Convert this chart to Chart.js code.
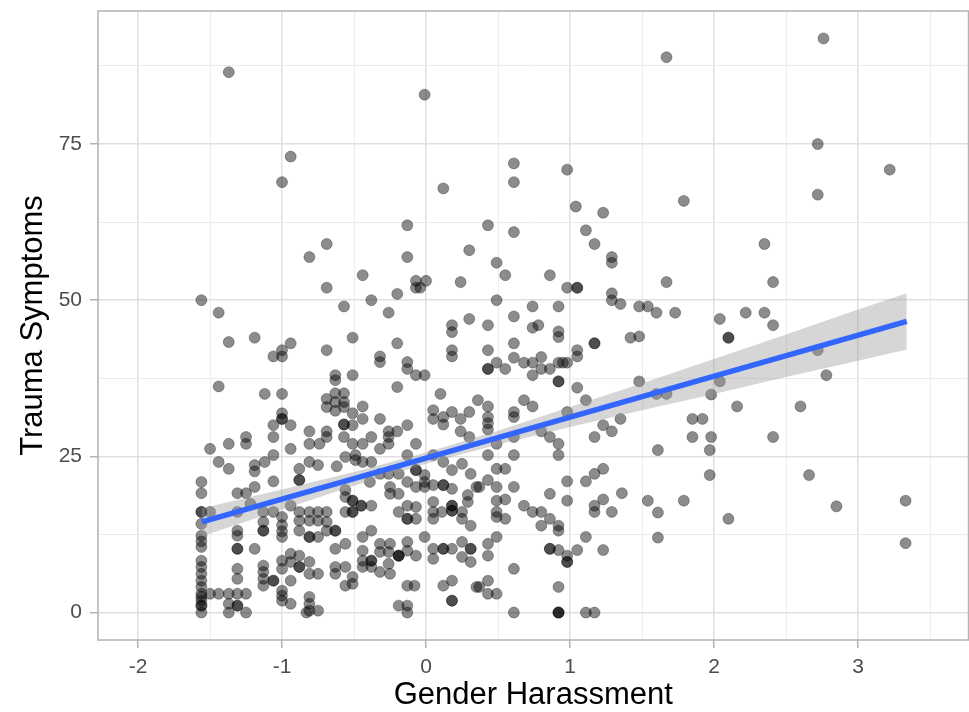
<!DOCTYPE html>
<html>
<head>
<meta charset="utf-8">
<script src="https://cdn.jsdelivr.net/npm/chart.js@4/dist/chart.umd.min.js"></script>
<style>
  html, body { margin: 0; padding: 0; background: #fff; }
  #wrap { width: 969px; height: 712px; }
</style>
</head>
<body>
<div id="wrap"><canvas id="chart" width="969" height="712"></canvas></div>
<script>
// scatter data (x = gender harassment, y = trauma symptoms)
const harassment = [
  // top part
  -1.37,-0.01,-0.94,-1.0,0.61,0.61,0.98,0.12,1.04,-0.13,
  0.43,0.61,-0.69,-0.81,-0.13,0.30,0.49,0.55,-0.44,0.86,
  1.23,1.11,1.17,1.29,1.29,1.67,1.79,2.35,2.76,2.72,
  3.22,2.72,
  // middle left
  -0.69,-0.07,0.0,-0.07,-0.04,-1.56,-0.38,-0.20,-0.57,-1.44,
  -0.26,-1.37,-1.19,-0.94,-1.0,-1.0,-1.06,-0.69,-0.51,-0.20,
  -0.32,-0.32,-0.13,-0.13,-0.07,-0.01,-1.44,-1.12,-1.0,-0.63,
  -0.63,-0.51,-0.20,-0.69,-0.69,-0.63,-0.63,-0.63,-0.57,-0.57,
  -0.57,-0.44,-0.51,-0.44,-0.51,-0.32,-1.0,-1.0,-1.0,-1.06,
  -0.94,-0.57,-0.57,-1.06,-1.25,-1.25,-1.37,-1.50,-0.81,-0.69,
  -0.69,-0.81,-0.74,-0.94,-0.57,-0.51,-0.44,-0.38,-0.26,-0.26,
  -0.26,-0.20,-0.13,-0.07,-0.32,0.05,0.05,0.10,
  // middle right
  0.24,0.98,1.05,1.05,1.29,1.29,1.35,1.48,1.54,1.60,
  1.73,1.67,0.49,0.74,0.92,0.30,0.18,0.18,0.43,0.61,
  0.74,0.78,0.92,0.92,1.42,1.48,1.17,1.17,0.18,0.18,
  0.43,0.61,0.61,0.49,0.43,0.43,0.55,0.68,0.74,0.80,
  0.74,0.80,0.86,0.92,0.95,0.98,1.05,1.05,0.92,0.92,
  1.05,1.11,1.48,1.60,1.67,0.12,0.12,0.18,0.24,0.30,
  0.36,0.43,0.43,0.43,0.43,0.24,0.30,0.49,0.61,0.61,
  0.68,0.74,0.61,0.80,0.86,0.92,0.98,1.17,1.23,1.29,
  1.35,
  // far right
  2.41,2.04,2.22,2.35,2.41,2.10,2.10,2.72,2.78,2.04,
  1.98,2.16,2.60,1.85,1.92,1.85,1.98,2.41,1.61,1.97,
  1.97,2.66,1.54,1.79,1.61,2.85,2.10,1.61,3.33,3.33,
  // bottom left
  -1.44,-1.37,-1.19,-1.19,-1.12,-1.06,-0.88,-0.81,-0.75,-0.88,
  -0.88,-1.56,-1.56,-1.31,-1.25,-1.19,-1.06,-1.22,-1.56,-1.56,
  -1.56,-1.56,-1.56,-1.56,-1.56,-1.56,-1.56,-1.56,-1.56,-1.56,
  -1.56,-1.56,-1.56,-1.56,-1.56,-1.50,-1.31,-1.13,-1.06,-1.0,
  -0.94,-0.88,-0.81,-0.75,-0.69,-1.0,-1.0,-1.13,-1.13,-1.13,
  -1.31,-1.31,-1.31,-1.31,-1.19,-1.0,-0.88,-0.81,-0.75,-0.69,
  -0.88,-0.81,-0.81,-0.75,-0.69,-1.31,-1.31,-1.50,-1.44,-1.37,
  -1.31,-1.25,-1.37,-1.31,-1.31,-1.25,-1.37,-1.13,-1.13,-1.13,
  -1.13,-1.06,-1.06,-1.0,-1.0,-0.94,-0.94,-0.88,-0.88,-0.88,
  -0.81,-0.81,-0.75,-1.0,-1.0,-0.94,-0.81,-0.81,-0.81,-0.75,
  -1.0,-0.94,-0.83,
  // bottom centre
  -0.62,-0.56,-0.49,-0.49,-0.44,-0.38,-0.13,-0.07,-0.07,-0.01,
  -0.01,0.05,0.12,0.18,0.25,0.31,0.12,0.12,0.05,0.18,
  0.35,0.29,0.29,0.18,0.18,0.18,0.18,0.25,0.25,0.11,
  0.05,0.05,0.05,0.31,-0.25,-0.25,-0.19,-0.13,-0.07,-0.01,
  -0.32,-0.26,-0.19,-0.39,-0.56,-0.56,-0.51,-0.51,-0.45,-0.45,
  -0.38,-0.51,-0.51,-0.56,-0.19,-0.13,-0.13,-0.13,-0.07,-0.07,
  -0.63,-0.63,-0.56,-0.63,-0.44,-0.38,-0.32,-0.25,-0.13,-0.13,
  -0.19,-0.19,-0.19,-0.07,-0.01,-0.44,-0.38,-0.38,-0.44,-0.44,
  -0.38,-0.32,-0.26,-0.32,-0.25,-0.26,-0.63,-0.63,-0.56,-0.51,
  -0.51,-0.56,-0.13,-0.08,-0.19,-0.13,-0.13,0.05,0.12,0.12,
  0.18,0.25,0.31,0.31,0.05,0.25,0.31,0.12,0.18,0.18,
  0.18,0.35,
  // bottom right
  0.43,0.61,0.92,0.49,0.55,0.43,0.37,0.49,0.61,0.49,
  0.55,0.49,0.49,0.55,0.68,0.74,0.80,0.86,0.80,0.92,
  0.92,0.86,0.98,0.98,1.11,1.17,1.23,1.17,1.17,1.23,
  1.29,1.36,1.11,1.23,1.05,0.86,0.86,0.92,0.98,0.98,
  0.98,0.49,0.43,0.43,0.61,0.43,0.37,0.43,0.49,0.92,
  0.61,0.92,0.92,0.92,1.11,1.17
]
const trauma = [
  // top part
  86.5,82.9,73.0,68.9,71.9,68.9,70.9,67.9,65.0,62.0,
  62.0,60.9,59.0,56.9,56.9,58.0,56.0,54.0,54.0,54.0,
  64.0,61.2,59.0,56.9,56.0,88.9,65.9,59.0,91.9,75.0,
  70.9,66.9,
  // middle left
  52.0,53.1,53.1,52.0,52.0,50.0,50.0,51.0,49.0,48.0,
  48.0,43.3,44.0,43.1,42.0,41.0,41.0,42.0,44.0,43.1,
  41.0,40.1,40.1,39.0,38.0,38.0,36.2,35.0,35.0,38.0,
  37.2,38.0,36.1,34.2,32.9,35.1,33.7,32.3,35.1,33.7,
  32.9,33.0,31.9,31.0,30.0,31.0,31.9,31.0,31.0,30.0,
  30.0,30.1,30.1,28.1,28.1,27.0,27.0,26.2,29.0,29.0,
  28.1,27.0,27.0,26.2,28.1,27.0,27.0,28.1,29.0,28.1,
  27.0,29.0,30.0,27.0,26.2,32.4,31.0,35.0,
  // middle right
  52.9,52.0,52.0,52.0,51.1,50.0,49.4,49.0,49.0,48.0,
  48.0,52.9,50.0,49.0,49.0,47.0,46.0,44.9,46.0,47.4,
  45.6,46.0,45.0,44.1,44.0,44.2,43.1,43.1,42.0,41.0,
  42.0,43.1,40.8,40.0,39.0,39.0,39.0,40.0,40.0,40.9,
  38.0,39.0,39.0,40.0,40.0,40.0,42.0,41.0,37.0,37.0,
  36.0,34.0,37.0,35.0,35.0,31.3,30.1,32.1,31.0,32.1,
  34.0,33.0,31.3,30.3,29.3,29.0,28.1,27.0,32.1,31.3,
  34.0,33.0,28.1,29.0,28.1,27.0,32.1,28.1,30.0,29.0,
  31.0,
  // far right
  52.9,47.0,48.0,48.0,46.0,44.0,44.0,42.0,38.0,37.0,
  34.9,33.0,33.0,31.0,31.0,28.1,28.1,28.1,26.0,26.0,
  22.0,22.0,17.9,17.9,16.0,17.0,15.0,12.0,17.9,11.1,
  // bottom left
  24.1,23.0,23.6,22.6,24.1,25.2,23.0,24.1,23.6,21.2,
  21.2,20.9,19.1,19.1,19.1,20.1,21.0,17.4,16.1,16.1,
  14.2,12.3,10.5,8.3,6.2,5.1,4.1,3.0,1.9,1.1,
  1.1,0.0,2.5,7.3,11.4,16.1,16.1,16.1,16.1,15.3,
  17.1,16.1,16.1,16.1,16.1,14.0,13.0,14.5,13.1,13.1,
  13.1,12.3,10.2,10.2,10.2,12.1,14.7,14.7,14.7,14.5,
  13.1,12.1,12.1,12.1,13.1,7.0,5.4,3.0,3.0,3.0,
  3.0,3.0,1.4,1.1,1.1,0.0,0.0,7.5,6.5,5.4,
  4.3,5.1,5.1,8.3,7.0,8.1,9.4,9.1,7.3,7.3,
  8.1,6.2,6.2,3.5,2.7,1.4,2.5,1.4,0.3,0.3,
  1.9,5.1,0.0,
  // bottom centre
  23.4,24.9,25.2,24.4,24.1,24.1,25.2,22.8,22.8,22.0,
  20.9,25.2,24.1,22.8,23.8,22.2,20.4,20.4,20.4,19.8,
  20.1,18.8,17.7,17.1,17.1,16.3,16.3,16.1,15.0,16.1,
  17.7,16.1,15.0,13.9,20.1,19.0,19.0,20.9,20.1,20.1,
  22.2,22.2,22.2,20.9,19.6,18.5,17.9,17.9,17.1,17.1,
  17.1,16.1,16.1,16.1,16.1,15.0,15.0,17.1,16.9,15.0,
  13.1,13.1,11.0,10.2,12.1,13.1,11.0,11.0,11.3,9.9,
  9.1,9.1,9.1,9.1,12.1,9.9,8.3,8.3,8.3,7.3,
  7.3,9.7,9.7,6.5,6.2,7.8,7.3,6.2,7.3,5.7,
  4.6,4.3,4.3,4.3,1.1,1.1,0.0,10.2,10.2,10.2,
  10.2,11.3,10.2,10.2,8.6,8.9,8.1,4.3,5.1,1.9,
  1.9,4.1,
  // bottom right
  25.2,25.2,25.2,23.0,23.0,21.2,20.1,20.1,20.1,17.9,
  18.1,16.1,15.3,15.0,17.1,16.1,16.1,15.0,13.9,13.9,
  13.1,19.0,21.0,17.9,21.0,22.2,23.0,17.1,16.1,18.1,
  16.1,19.1,12.1,10.0,10.0,10.2,10.2,10.0,9.1,8.1,
  8.1,12.1,11.0,9.1,7.0,5.1,4.1,3.0,3.0,4.1,
  0.0,0.0,0.0,0.0,0.0,0.0
]

// fitted line (lm) and its confidence band
const fitX = [-1.556, 3.338]
const fitY = [14.5, 46.6]
const bandX = [-1.556, -1, -0.5, 0, 0.5, 1, 1.5, 2, 2.5, 3, 3.338]
const bandUpper = [16.7, 19.7, 22.5, 25.6, 29.1, 32.9, 36.7, 40.6, 44.5, 48.5, 51.1]
const bandLower = [12.2, 16.5, 20.3, 23.8, 26.9, 29.7, 32.4, 35.0, 37.7, 40.3, 42.1]

// axis ticks (major labelled, minor only grid)
const xTicks = [-2, -1.5, -1, -0.5, 0, 0.5, 1, 1.5, 2, 2.5, 3, 3.5]
const yTicks = [0, 12.5, 25, 37.5, 50, 62.5, 75, 87.5]

const FONT = "'Liberation Sans', Arial, Helvetica, sans-serif"
const isMajor = v => Number.isInteger(v)

const points = harassment.map((h, i) => ({x: h, y: trauma[i]}))
const fitLine = fitX.map((v, i) => ({x: v, y: fitY[i]}))
const upper = bandX.map((v, i) => ({x: v, y: bandUpper[i]}))
const lower = bandX.map((v, i) => ({x: v, y: bandLower[i]}))

// panel border all round (theme_light)
const panelBorder = {
  id: 'panelBorder',
  afterDraw(chart) {
    const {ctx, chartArea: a} = chart
    ctx.save()
    ctx.strokeStyle = '#b3b3b3'
    ctx.lineWidth = 1.5
    ctx.strokeRect(a.left, a.top, a.right - a.left, a.bottom - a.top)
    ctx.restore()
  }
}

function gridOpts() {
  return {
    color: c => isMajor(c.tick.value) ? '#e0e0e0' : '#ececec',
    lineWidth: c => isMajor(c.tick.value) ? 1.5 : 1,
    tickColor: c => isMajor(c.tick.value) ? '#b3b3b3' : 'rgba(0,0,0,0)',
    tickWidth: 1.5,
    tickLength: 8,
    drawTicks: true
  }
}

new Chart(document.getElementById('chart'), {
  type: 'scatter',
  data: {
    datasets: [
      {
        data: fitLine, showLine: true, borderColor: '#3366ff', borderWidth: 5.5,
        pointRadius: 0, fill: false, order: 0
      },
      {
        data: upper, showLine: true, borderWidth: 0, borderColor: 'rgba(0,0,0,0)',
        pointRadius: 0, fill: '+1', backgroundColor: 'rgba(153,153,153,0.4)', order: 1
      },
      {
        data: lower, showLine: true, borderWidth: 0, borderColor: 'rgba(0,0,0,0)',
        pointRadius: 0, fill: false, order: 2
      },
      {
        data: points, pointRadius: 5.5, borderWidth: 1,
        backgroundColor: 'rgba(0,0,0,0.45)', borderColor: 'rgba(0,0,0,0.3)', order: 3
      }
    ]
  },
  options: {
    responsive: false,
    animation: false,
    devicePixelRatio: 1,
    layout: { autoPadding: false, padding: { top: 11, right: 0.5, left: 0, bottom: 0 } },
    plugins: { legend: { display: false }, tooltip: { enabled: false } },
    scales: {
      x: {
        type: 'linear', min: -2.278, max: 3.767,
        afterBuildTicks: s => { s.ticks = xTicks.map(v => ({value: v})) },
        afterFit: s => { s.height = 72; s.paddingLeft = 0; s.paddingRight = 0 },
        ticks: {
          autoSkip: false, maxRotation: 0, padding: 7, color: '#4d4d4d',
          font: { family: FONT, size: 21 },
          callback: v => isMajor(v) ? String(v) : ''
        },
        grid: gridOpts(),
        border: { display: false },
        title: {
          display: true, text: 'Gender Harassment', color: '#000',
          font: { family: FONT, size: 31, lineHeight: 1.1 }, padding: { top: 0, bottom: -1 }
        }
      },
      y: {
        type: 'linear', min: -4.4, max: 96.3,
        afterBuildTicks: s => { s.ticks = yTicks.map(v => ({value: v})) },
        afterFit: s => { s.width = 98; s.paddingTop = 0; s.paddingBottom = 0 },
        ticks: {
          autoSkip: false, padding: 8, color: '#4d4d4d',
          font: { family: FONT, size: 21 },
          callback: v => isMajor(v) ? String(v) : ''
        },
        grid: gridOpts(),
        border: { display: false },
        title: {
          display: true, text: 'Trauma Symptoms', color: '#000',
          font: { family: FONT, size: 31, lineHeight: 1.1 }, padding: { top: 16, bottom: 0 }
        }
      }
    }
  },
  plugins: [panelBorder]
})
</script>
</body>
</html>
